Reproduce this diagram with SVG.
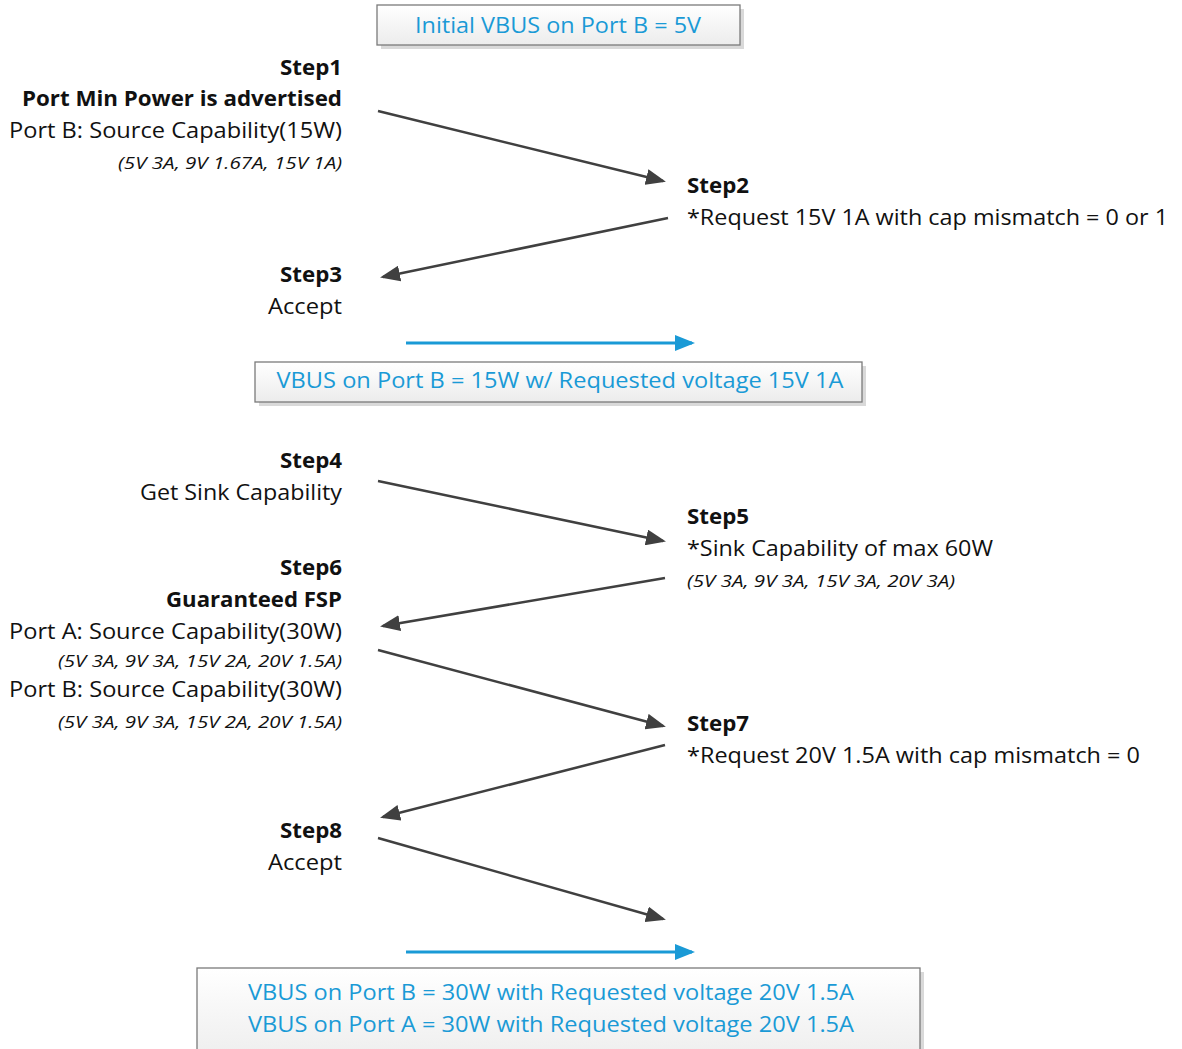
<svg xmlns="http://www.w3.org/2000/svg" width="1182" height="1049" viewBox="0 0 1182 1049">
<defs>
<linearGradient id="boxfill" x1="0" y1="0" x2="0" y2="1">
<stop offset="0" stop-color="#ffffff"/>
<stop offset="1" stop-color="#ececec"/>
</linearGradient>
<marker id="ah" viewBox="0 0 20 16" markerWidth="20" markerHeight="16" refX="17" refY="8" orient="auto" markerUnits="userSpaceOnUse">
<path d="M0,0 L20,8 L0,16 Z" fill="#404040"/>
</marker>
<marker id="bh" viewBox="0 0 20 16" markerWidth="20" markerHeight="16" refX="17" refY="8" orient="auto" markerUnits="userSpaceOnUse">
<path d="M0,0 L20,8 L0,16 Z" fill="#1a9ad6"/>
</marker>
</defs>
<style>
text{font-family:"Open Sans","Liberation Sans",sans-serif;fill:#111;}
.t{font-size:22px;}
.b{font-size:22px;font-weight:bold;}
.i{font-size:17px;font-style:italic;}
.r{text-anchor:end;}
.box{fill:url(#boxfill);stroke:#7a7a7a;stroke-width:1.3;}
.shadow{fill:#d9d9d9;}
.bt{font-size:22px;fill:#1a9ad6;text-anchor:middle;}
.arr{stroke:#404040;stroke-width:2.5;fill:none;marker-end:url(#ah);}
.barr{stroke:#1a9ad6;stroke-width:3;fill:none;marker-end:url(#bh);}
</style>
<rect width="1182" height="1049" fill="#ffffff"/>

<g id="box-initial">
<rect class="shadow" x="381" y="9" width="363" height="40"/>
<rect class="box" x="377" y="5" width="363" height="40"/>
<text class="bt" x="558" y="33" textLength="286" lengthAdjust="spacingAndGlyphs">Initial VBUS on Port B = 5V</text>
</g>

<g id="step1">
<text class="b r" x="342" y="75" textLength="62" lengthAdjust="spacingAndGlyphs">Step1</text>
<text class="b r" x="342" y="106" textLength="320" lengthAdjust="spacingAndGlyphs">Port Min Power is advertised</text>
<text class="t r" x="342" y="138" textLength="333" lengthAdjust="spacingAndGlyphs">Port B: Source Capability(15W)</text>
<text class="i r" x="342" y="169" textLength="224" lengthAdjust="spacingAndGlyphs">(5V 3A, 9V 1.67A, 15V 1A)</text>
</g>

<g id="step2">
<text class="b" x="687" y="193" textLength="62" lengthAdjust="spacingAndGlyphs">Step2</text>
<text class="t" x="687" y="225" textLength="481" lengthAdjust="spacingAndGlyphs">*Request 15V 1A with cap mismatch = 0 or 1</text>
</g>

<g id="step3">
<text class="b r" x="342" y="282" textLength="62" lengthAdjust="spacingAndGlyphs">Step3</text>
<text class="t r" x="342" y="314" textLength="74" lengthAdjust="spacingAndGlyphs">Accept</text>
</g>

<g id="box-15w">
<rect class="shadow" x="259" y="366" width="607" height="40"/>
<rect class="box" x="255" y="362" width="607" height="40"/>
<text class="bt" x="560" y="388" textLength="567" lengthAdjust="spacingAndGlyphs">VBUS on Port B = 15W w/ Requested voltage 15V 1A</text>
</g>

<g id="step4">
<text class="b r" x="342" y="468" textLength="62" lengthAdjust="spacingAndGlyphs">Step4</text>
<text class="t r" x="342" y="500" textLength="202" lengthAdjust="spacingAndGlyphs">Get Sink Capability</text>
</g>

<g id="step5">
<text class="b" x="687" y="524" textLength="62" lengthAdjust="spacingAndGlyphs">Step5</text>
<text class="t" x="687" y="556" textLength="306" lengthAdjust="spacingAndGlyphs">*Sink Capability of max 60W</text>
<text class="i" x="687" y="587" textLength="268" lengthAdjust="spacingAndGlyphs">(5V 3A, 9V 3A, 15V 3A, 20V 3A)</text>
</g>

<g id="step6">
<text class="b r" x="342" y="575" textLength="62" lengthAdjust="spacingAndGlyphs">Step6</text>
<text class="b r" x="342" y="607" textLength="176" lengthAdjust="spacingAndGlyphs">Guaranteed FSP</text>
<text class="t r" x="342" y="639" textLength="333" lengthAdjust="spacingAndGlyphs">Port A: Source Capability(30W)</text>
<text class="i r" x="342" y="667" textLength="284" lengthAdjust="spacingAndGlyphs">(5V 3A, 9V 3A, 15V 2A, 20V 1.5A)</text>
<text class="t r" x="342" y="697" textLength="333" lengthAdjust="spacingAndGlyphs">Port B: Source Capability(30W)</text>
<text class="i r" x="342" y="728" textLength="284" lengthAdjust="spacingAndGlyphs">(5V 3A, 9V 3A, 15V 2A, 20V 1.5A)</text>
</g>

<g id="step7">
<text class="b" x="687" y="731" textLength="62" lengthAdjust="spacingAndGlyphs">Step7</text>
<text class="t" x="687" y="763" textLength="453" lengthAdjust="spacingAndGlyphs">*Request 20V 1.5A with cap mismatch = 0</text>
</g>

<g id="step8">
<text class="b r" x="342" y="838" textLength="62" lengthAdjust="spacingAndGlyphs">Step8</text>
<text class="t r" x="342" y="870" textLength="74" lengthAdjust="spacingAndGlyphs">Accept</text>
</g>

<g id="box-30w">
<rect class="shadow" x="201" y="972" width="723" height="100"/>
<rect class="box" x="197" y="968" width="723" height="100"/>
<text class="bt" x="551" y="1000" textLength="606" lengthAdjust="spacingAndGlyphs">VBUS on Port B = 30W with Requested voltage 20V 1.5A</text>
<text class="bt" x="551" y="1032" textLength="606" lengthAdjust="spacingAndGlyphs">VBUS on Port A = 30W with Requested voltage 20V 1.5A</text>
</g>

<g id="connectors">
<line class="arr" x1="378" y1="111" x2="663" y2="181"/>
<line class="arr" x1="668" y1="218" x2="383" y2="277"/>
<line class="barr" x1="406" y1="343" x2="692" y2="343"/>
<line class="arr" x1="378" y1="481" x2="663" y2="541"/>
<line class="arr" x1="665" y1="578" x2="383" y2="626"/>
<line class="arr" x1="378" y1="650" x2="663" y2="726"/>
<line class="arr" x1="665" y1="745" x2="383" y2="817"/>
<line class="arr" x1="378" y1="838" x2="663" y2="919"/>
<line class="barr" x1="406" y1="952" x2="692" y2="952"/>
</g>
</svg>
